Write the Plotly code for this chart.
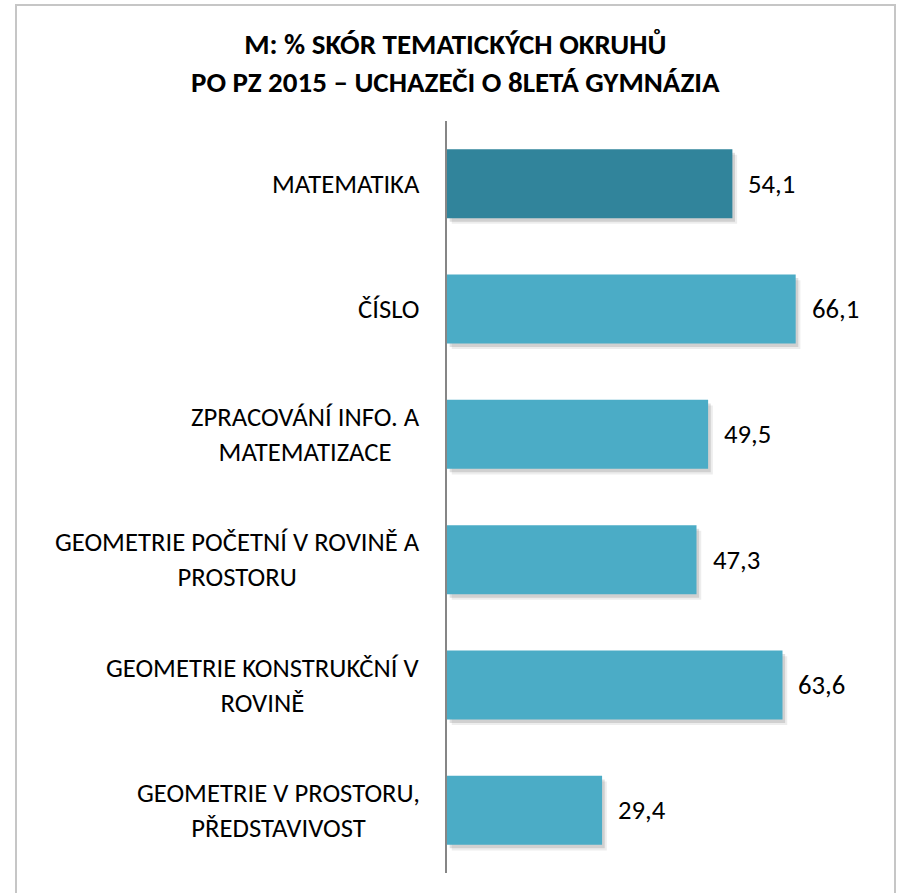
import plotly.graph_objects as go

# ---- data ----
categories = [
    "MATEMATIKA",
    "ČÍSLO",
    "ZPRACOVÁNÍ INFO. A<br>MATEMATIZACE",
    "GEOMETRIE POČETNÍ V ROVINĚ A<br>PROSTORU",
    "GEOMETRIE KONSTRUKČNÍ V<br>ROVINĚ",
    "GEOMETRIE V PROSTORU,<br>PŘEDSTAVIVOST",
]
values = [54.1, 66.1, 49.5, 47.3, 63.6, 29.4]
bar_colors = ["#31849B", "#4BACC6", "#4BACC6", "#4BACC6", "#4BACC6", "#4BACC6"]
title_text = "M: % SKÓR TEMATICKÝCH OKRUHŮ<br>PO PZ 2015 – UCHAZEČI O 8LETÁ GYMNÁZIA"

W, H = 899, 893
ML, MR, MT, MB = 447, 30, 121, 20
FONT = "Carlito, 'Open Sans', sans-serif"
BAR_W = 0.55

fig = go.Figure()

# soft drop shadow layers
for alpha, shift_x, shift_y in [(0.07, 0.9, 0.045), (0.12, 0.5, 0.028)]:
    fig.add_trace(go.Bar(
        x=values, y=categories, orientation="h",
        base=[shift_x] * len(values),
        width=BAR_W, offset=-BAR_W / 2 + shift_y,
        marker=dict(color=f"rgba(0,0,0,{alpha})", line=dict(width=0)),
        hoverinfo="skip", showlegend=False,
    ))

fig.add_trace(go.Bar(
    x=values, y=categories, orientation="h",
    width=BAR_W, offset=-BAR_W / 2,
    marker=dict(color=bar_colors, line=dict(width=0)),
    showlegend=False,
))

# category labels (multi-line, centred lines, right-aligned block)
for cat in categories:
    fig.add_annotation(
        x=0, xref="paper", y=cat, yref="y",
        text=cat, showarrow=False, xanchor="right", yanchor="middle",
        align="center", xshift=-25,
        font=dict(family=FONT, size=26.7, color="#000000"),
    )

# value labels
for cat, v in zip(categories, values):
    fig.add_annotation(
        x=v, xref="x", y=cat, yref="y",
        text=f"{v:.1f}".replace(".", ","), showarrow=False,
        xanchor="left", yanchor="middle", xshift=14,
        font=dict(family=FONT, size=26.7, color="#000000"),
    )

pw = W - ML - MR
ph = H - MT - MB

# title
fig.add_annotation(
    x=(455 - ML) / pw, xref="paper", y=(H - MB - 24) / ph, yref="paper",
    text=f"<b>{title_text}</b>", showarrow=False, xanchor="center", yanchor="top",
    align="center",
    font=dict(family=FONT, size=29, color="#000000"),
)

# outer chart frame
fig.add_shape(
    type="rect", xref="paper", yref="paper",
    x0=(16 - ML) / pw, x1=(895 - ML) / pw,
    y0=-(MB + 10) / ph, y1=1 + (MT - 5) / ph,
    line=dict(color="#C6C6C6", width=2), fillcolor="rgba(0,0,0,0)", layer="below",
)

fig.update_layout(
    width=W, height=H,
    margin=dict(l=ML, r=MR, t=MT, b=MB, pad=0),
    paper_bgcolor="white", plot_bgcolor="white",
    barmode="overlay",
    xaxis=dict(range=[0, 80], visible=False, fixedrange=True),
    yaxis=dict(
        autorange="reversed", showticklabels=False, ticks="",
        showgrid=False, zeroline=False,
        showline=True, linecolor="#868686", linewidth=2,
    ),
    separators=", ",
)

fig.write_html(
    "out.html",
    config={"displayModeBar": False},
    post_script="document.body.style.margin='0';document.body.style.overflow='hidden';",
)
